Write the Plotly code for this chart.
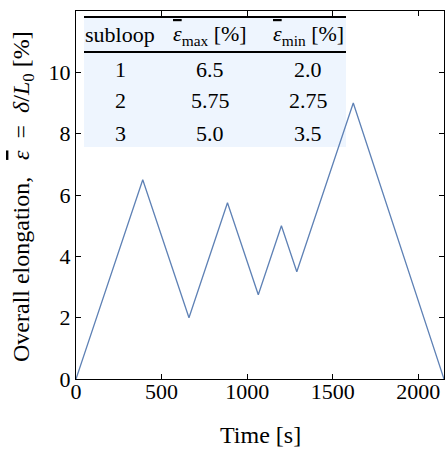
import plotly.graph_objects as go

# Data
time_s = [0, 390, 660, 885, 1065, 1200, 1290, 1620, 2150]
elongation_pct = [0, 6.5, 2.0, 5.75, 2.75, 5.0, 3.5, 9.0, 0]

EPS = ('<span style="text-decoration:overline;text-decoration-thickness:1px;'
       'text-underline-offset:0px"><i>ε</i></span>')
table_header = ["subloop", EPS + "<sub>max</sub> [%]", EPS + "<sub>min</sub> [%]"]
subloops = ["1", "2", "3"]
eps_max = ["6.5", "5.75", "5.0"]
eps_min = ["2.0", "2.75", "3.5"]

x_ticks = [0, 500, 1000, 1500, 2000]
y_ticks = [0, 2, 4, 6, 8, 10, 12]

x_title = "Time [s]"
y_title = ("Overall elongation,\u2002\u2009" + EPS + "\u2002=\u2002<i>δ</i>/<i>L</i>"
           "<sub>0</sub> [%]")

FONT = "Liberation Serif"
LINE_COLOR = "#5E81B5"

fig = go.Figure()
fig.add_trace(go.Scatter(x=time_s, y=elongation_pct, mode="lines",
                         line=dict(color=LINE_COLOR, width=1.3),
                         showlegend=False, hoverinfo="skip"))

W, H = 445, 451
L, R, T, B = 76, 1, 11, 72
pw = W - L - R
ph = H - T - B

def px_x(px):
    return (px - L) / pw

def px_y(py):
    return (H - B - py) / ph

# table background and rules
tx0, tx1 = px_x(84), px_x(346)
shapes = [
    dict(type="rect", xref="paper", yref="paper", x0=tx0, x1=tx1,
         y0=px_y(147), y1=px_y(17), fillcolor="#EEF5FE", line=dict(width=0), layer="below"),
    dict(type="line", xref="paper", yref="paper", x0=tx0, x1=tx1,
         y0=px_y(17), y1=px_y(17), line=dict(color="black", width=2)),
    dict(type="line", xref="paper", yref="paper", x0=tx0, x1=tx1,
         y0=px_y(52), y1=px_y(52), line=dict(color="black", width=2)),
]

col_x = [px_x(120), px_x(210), px_x(308)]
header_y = px_y(35)
row_y = [px_y(69), px_y(101), px_y(133)]

annotations = []
for cx, txt in zip(col_x, table_header):
    annotations.append(dict(x=cx, y=header_y, xref="paper", yref="paper", text=txt,
                            showarrow=False, xanchor="center", yanchor="middle",
                            font=dict(family=FONT, size=22, color="black")))
for i, (a, b, c) in enumerate(zip(subloops, eps_max, eps_min)):
    for cx, txt in zip(col_x, (a, b, c)):
        annotations.append(dict(x=cx, y=row_y[i], xref="paper", yref="paper", text=txt,
                                showarrow=False, xanchor="center", yanchor="middle",
                                font=dict(family=FONT, size=22, color="black")))

# axis titles
annotations.append(dict(x=px_x(260), y=px_y(435), xref="paper", yref="paper", text=x_title,
                        showarrow=False, xanchor="center", yanchor="middle",
                        font=dict(family=FONT, size=24, color="black")))
annotations.append(dict(x=px_x(23), y=px_y(197), xref="paper", yref="paper", text=y_title,
                        showarrow=False, xanchor="center", yanchor="middle", textangle=-90,
                        font=dict(family=FONT, size=24, color="black")))

axis_common = dict(
    showline=True, linecolor="black", linewidth=1, mirror="ticks",
    ticks="inside", ticklen=5, tickwidth=1, tickcolor="black",
    showgrid=False, zeroline=False,
    tickfont=dict(family=FONT, size=22, color="black"),
)

fig.update_layout(
    width=W, height=H,
    margin=dict(l=L, r=R, t=T, b=B, autoexpand=False),
    paper_bgcolor="white", plot_bgcolor="white",
    xaxis=dict(range=[0, 2150], tickvals=x_ticks, ticklabelstandoff=-7, **axis_common),
    yaxis=dict(range=[0, 12], tickvals=y_ticks, **axis_common),
    shapes=shapes,
    annotations=annotations,
)

fig.write_html("out.html")
